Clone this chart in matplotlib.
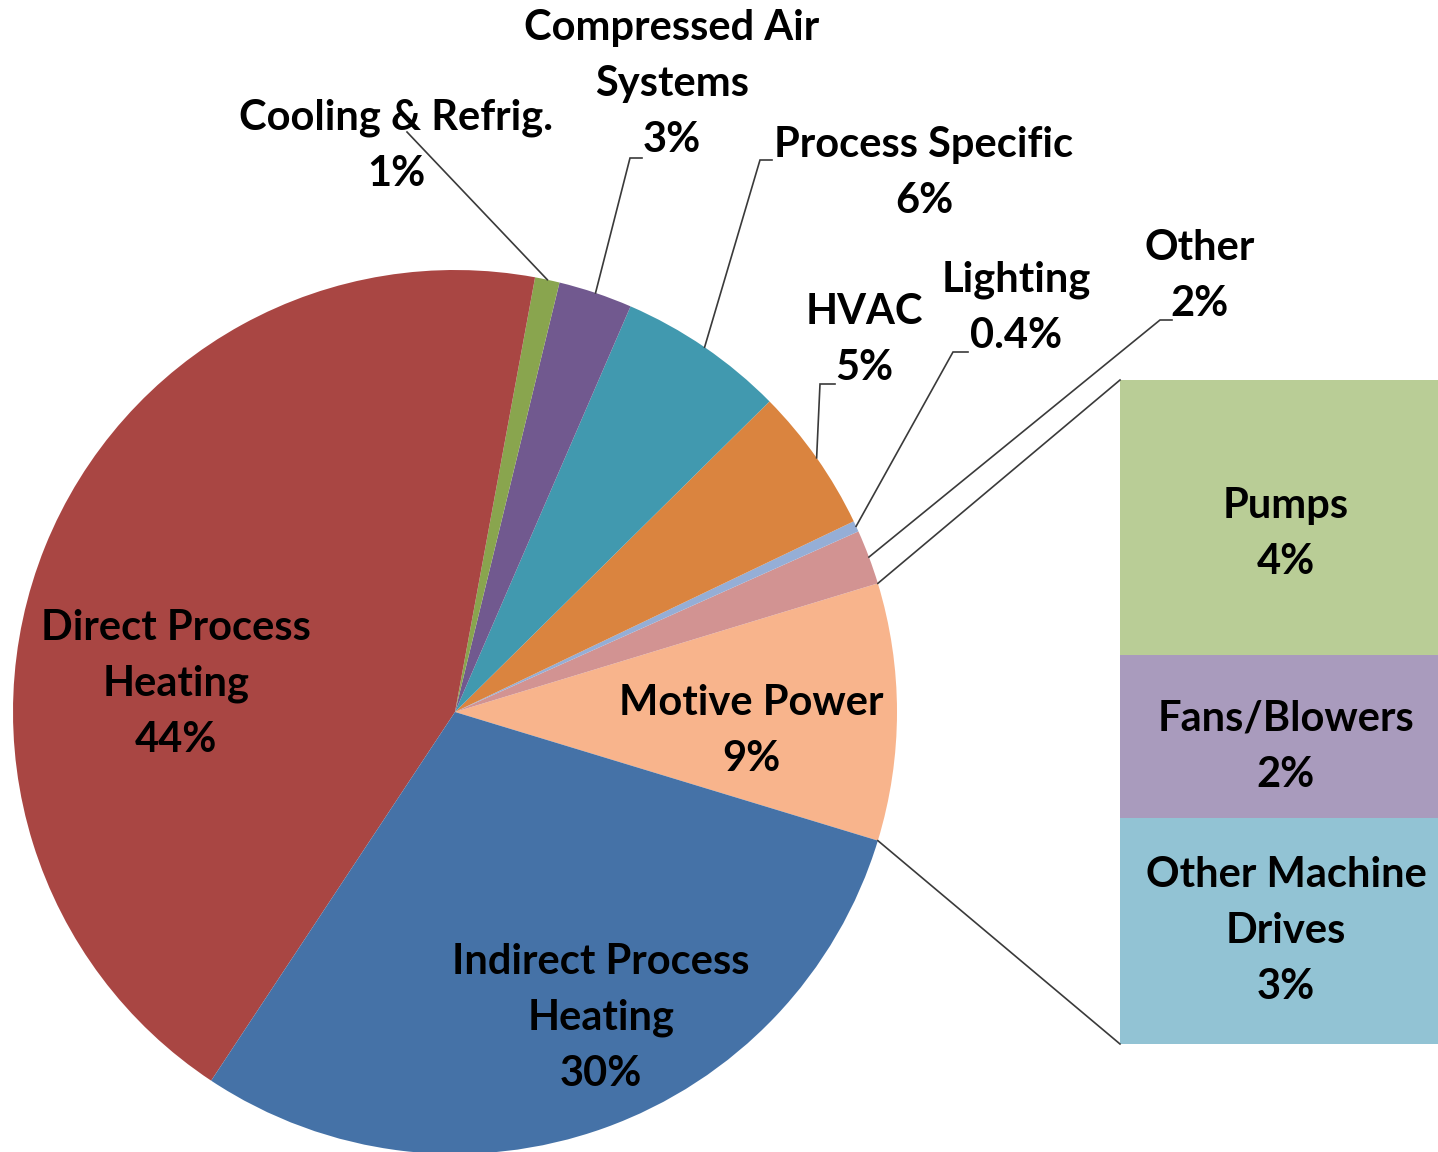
import numpy as np
import matplotlib
matplotlib.use('Agg')
import matplotlib.pyplot as plt

# pie slices, counterclockwise starting from the exploded one
pie_labels = ['Motive Power', 'Other', 'Lighting', 'HVAC', 'Process Specific',
              'Compressed Air\nSystems', 'Cooling & Refrig.',
              'Direct Process\nHeating', 'Indirect Process\nHeating']
pie_values = [9.4, 2.0, 0.4, 5.3, 6.1, 2.7, 0.9, 43.6, 29.6]
pie_pct = ['9%', '2%', '0.4%', '5%', '6%', '3%', '1%', '44%', '30%']
pie_colors = ['#F8B48C', '#D29392', '#95AED6', '#DA843F', '#4199AF',
              '#71598F', '#89A54E', '#A94643', '#4572A7']

# motive power split shown in the bar (top to bottom)
bar_labels = ['Pumps', 'Fans/Blowers', 'Other Machine\nDrives']
bar_values = [3.9, 2.3, 3.2]
bar_pct = ['4%', '2%', '3%']
bar_colors = ['#B9CD96', '#A99BBD', '#92C3D4']

W, H = 1438, 1152
FONT = 'Lato'
FS = 30


def P(x, y):
    '''pixel position (top-left origin) -> axes data coords'''
    return x, H - y


fig = plt.figure(figsize=(W / 100, H / 100), dpi=100)
ax = fig.add_axes([0, 0, 1, 1])

cx, cy = P(455, 712)
R = 442
start = -pie_values[0] / sum(pie_values) * 360 / 2
wedges, _ = ax.pie(pie_values, colors=pie_colors, startangle=start,
                   counterclock=True, center=(cx, cy), radius=R, frame=True,
                   wedgeprops=dict(linewidth=0))


def edge(theta, r=R):
    t = np.radians(theta)
    return cx + r * np.cos(t), cy + r * np.sin(t)


def txt(x, y, s, **kw):
    ax.text(*P(x, y), s, ha='center', va='center', fontsize=FS,
            fontweight='bold', family=FONT, linespacing=1.57, **kw)


# labels inside the pie
inside = {0: (751, 731), 7: (176, 684), 8: (601, 1018)}
for i, (x, y) in inside.items():
    txt(x, y, pie_labels[i] + '\n' + pie_pct[i])

# outside labels with leader lines: text center, line end, short horizontal end
outside = {
    6: ((396, 146), (407, 132), None),
    5: ((672, 84), (630, 158), (642, 158)),
    4: ((924, 173), (760, 160), (772, 160)),
    3: ((864, 340), (820, 384), (835, 384)),
    2: ((1016, 308), (953, 352), (968, 352)),
    1: ((1200, 276), (1160, 320), (1172, 320)),
}
for i, (tpos, knee, tail) in outside.items():
    txt(*tpos, pie_labels[i] + '\n' + pie_pct[i])
    w = wedges[i]
    x0, y0 = edge((w.theta1 + w.theta2) / 2)
    xs, ys = [x0, P(*knee)[0]], [y0, P(*knee)[1]]
    if tail:
        xs.append(P(*tail)[0])
        ys.append(P(*tail)[1])
    ax.plot(xs, ys, color='#3a3a3a', lw=1.2, solid_joinstyle='miter')

# stacked bar for motive power breakdown
bar_left, bar_right = 1120, 1442
bar_top, bar_bottom = 380, 1044
label_shift = [16, 10, 0]
k = (bar_bottom - bar_top) / sum(bar_values)
bx = P((bar_left + bar_right) / 2, 0)[0]
top = P(0, bar_top)[1]
for lab, v, pct, c, dy in zip(bar_labels, bar_values, bar_pct, bar_colors,
                              label_shift):
    h = v * k
    ax.bar(bx, h, width=bar_right - bar_left, bottom=top - h, color=c,
           linewidth=0)
    yc = H - (top - h / 2)
    txt(1286, yc + dy, lab + '\n' + pct)
    top -= h

# connector lines between pie and bar
w = wedges[0]
for th, by in ((w.theta2, bar_top), (w.theta1, bar_bottom)):
    x0, y0 = edge(th)
    x1, y1 = P(bar_left, by)
    ax.plot([x0, x1], [y0, y1], color='#3a3a3a', lw=1.2)

ax.set_xlim(0, W)
ax.set_ylim(0, H)
ax.set_aspect('equal')
ax.axis('off')
fig.savefig('out.png', dpi=100)
